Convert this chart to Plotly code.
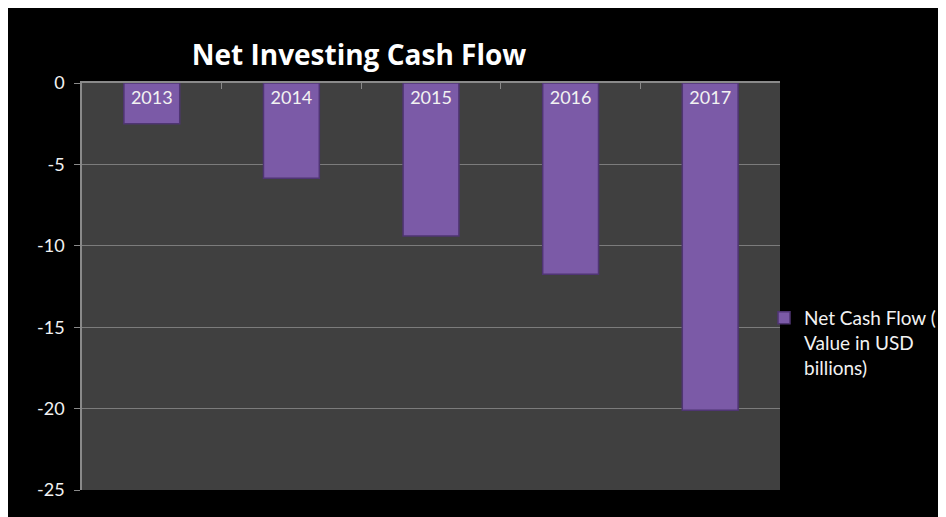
import plotly.graph_objects as go

years = ["2013", "2014", "2015", "2016", "2017"]
net_cash_flow = [-2.5, -5.85, -9.4, -11.75, -20.1]
y_ticks = [0, -5, -10, -15, -20, -25]
y_tick_text = ["0", "-5", "-10", "-15", "-20", "-25"]

# page body adds an 8px offset, so everything below is in figure pixels
W, H = 946, 517
L, R, T, B = 74, 174, 75, 35
pw, ph = W - L - R, H - T - B


def px_x(p):
    return (p - L) / pw


def px_y(p):
    return (H - B - p) / ph


fig = go.Figure()
fig.add_trace(go.Bar(
    x=years,
    y=net_cash_flow,
    name="Net Cash Flow (<br>Value in USD<br>billions)",
    width=0.4,
    marker=dict(color="#7b5aa7", line=dict(color="#4f3573", width=1.5)),
    text=years,
    textposition="inside",
    insidetextanchor="start",
    textangle=0,
    textfont=dict(family="Lato", size=18, color="#f2f2f2"),
    hoverinfo="y",
))

fig.update_xaxes(
    side="top",
    showticklabels=False,
    ticks="inside",
    tickson="boundaries",
    ticklen=6,
    tickcolor="#8a8a8a",
    showline=True,
    linecolor="#8a8a8a",
    linewidth=1.5,
    showgrid=False,
    zeroline=False,
)
fig.update_yaxes(
    range=[-25, 0],
    tickvals=y_ticks,
    ticktext=y_tick_text,
    ticks="outside",
    ticklen=6,
    tickcolor="#8a8a8a",
    ticklabelstandoff=6,
    showline=True,
    linecolor="#8a8a8a",
    linewidth=1.5,
    gridcolor="#7c7c7c",
    gridwidth=1,
    zeroline=False,
    tickfont=dict(family="Lato", size=18, color="#f2f2f2"),
)

fig.update_layout(
    width=W,
    height=H,
    margin=dict(l=L, r=R, t=T, b=B),
    paper_bgcolor="#000000",
    plot_bgcolor="#404040",
    title=dict(
        text="<b>Net Investing Cash Flow</b>",
        x=px_x(351), xref="paper", xanchor="center",
        y=1 - 47 / H, yanchor="middle",
        font=dict(family="Open Sans", size=28, color="#ffffff"),
    ),
    showlegend=True,
    legend=dict(
        x=px_x(756), y=px_y(335), xanchor="left", yanchor="middle",
        valign="top",
        bgcolor="rgba(0,0,0,0)",
        font=dict(family="Lato", size=19, color="#f2f2f2"),
    ),
)

fig.write_html("out.html")
